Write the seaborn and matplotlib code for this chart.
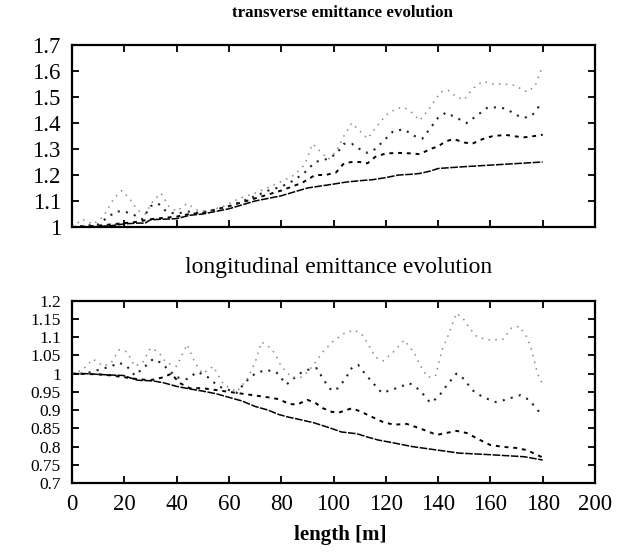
import numpy as np
import pandas as pd
import matplotlib
matplotlib.use("Agg")
import matplotlib.pyplot as plt
import seaborn as sns
from matplotlib.ticker import FormatStrFormatter

# ---------------- data ----------------
# transverse emittance evolution
tA_x = [0, 5, 10, 15, 20, 25, 28, 30, 35, 40, 45, 50, 60, 70, 80, 90, 100, 105, 110, 115, 120, 125, 130, 133, 137, 140, 150, 160, 170, 180]
tA_y = [1.0, 1.0, 1.002, 1.005, 1.012, 1.015, 1.015, 1.028, 1.03, 1.032, 1.045, 1.05, 1.07, 1.1, 1.12, 1.15, 1.165, 1.173, 1.178, 1.182, 1.19, 1.2, 1.203, 1.206, 1.215, 1.225, 1.232, 1.238, 1.244, 1.25]

tB_x = [0, 10, 20, 25, 30, 35, 40, 45, 50, 60, 70, 80, 88, 93, 97, 101, 104, 107, 110, 113, 116, 120, 125, 130, 133, 137, 140, 143, 146, 150, 153, 157, 161, 166, 170, 173, 177, 180]
tB_y = [1.0, 1.005, 1.015, 1.02, 1.03, 1.035, 1.04, 1.05, 1.055, 1.08, 1.11, 1.14, 1.17, 1.2, 1.2, 1.21, 1.245, 1.25, 1.25, 1.245, 1.27, 1.283, 1.285, 1.283, 1.28, 1.3, 1.31, 1.33, 1.338, 1.325, 1.32, 1.338, 1.35, 1.354, 1.348, 1.345, 1.35, 1.355]

tC_x = [0, 5, 10, 14, 17, 20, 24, 27, 30, 33, 36, 40, 44, 48, 52, 60, 68, 75, 80, 85, 89, 93, 97, 101, 104, 107, 110, 113, 116, 119, 123, 127, 131, 134, 137, 140, 143, 147, 151, 155, 159, 163, 166, 170, 173, 176, 178, 180]
tC_y = [1.0, 1.005, 1.01, 1.04, 1.06, 1.06, 1.045, 1.03, 1.08, 1.09, 1.06, 1.05, 1.06, 1.055, 1.06, 1.08, 1.11, 1.14, 1.155, 1.18, 1.21, 1.25, 1.26, 1.28, 1.32, 1.32, 1.3, 1.285, 1.3, 1.33, 1.37, 1.375, 1.35, 1.34, 1.38, 1.42, 1.44, 1.42, 1.4, 1.43, 1.46, 1.46, 1.455, 1.43, 1.42, 1.43, 1.457, 1.48]

tD_x = [0, 4, 8, 12, 16, 19, 22, 25, 28, 31, 34, 37, 40, 44, 48, 52, 58, 64, 70, 79, 85, 89, 92, 95, 98, 101, 104, 107, 110, 113, 116, 120, 124, 127, 130, 133, 137, 141, 144, 147, 150, 153, 157, 161, 165, 169, 174, 177, 180]
tD_y = [1.0, 1.03, 1.01, 1.04, 1.11, 1.14, 1.11, 1.065, 1.05, 1.1, 1.13, 1.08, 1.06, 1.09, 1.065, 1.06, 1.08, 1.11, 1.13, 1.17, 1.2, 1.24, 1.32, 1.29, 1.26, 1.29, 1.35, 1.4, 1.37, 1.34, 1.38, 1.43, 1.455, 1.46, 1.44, 1.41, 1.46, 1.52, 1.525, 1.5, 1.49, 1.53, 1.56, 1.55, 1.55, 1.545, 1.52, 1.54, 1.62]

# longitudinal emittance evolution
lA_x = [0, 5, 10, 15, 19.5, 25, 31, 35, 40, 45, 50, 55, 60, 65, 70, 75, 79, 82.6, 86.5, 92.6, 98.7, 103, 109, 113, 117, 123, 130, 140, 148, 159, 173, 180]
lA_y = [1.0, 1.0, 0.998, 0.996, 0.995, 0.982, 0.98, 0.975, 0.965, 0.958, 0.952, 0.945, 0.935, 0.925, 0.91, 0.9, 0.888, 0.881, 0.875, 0.865, 0.851, 0.84, 0.835, 0.826, 0.818, 0.81, 0.8, 0.79, 0.782, 0.778, 0.772, 0.763]

lB_x = [0, 10, 15, 20, 25, 30, 35, 38, 41, 45, 50, 55, 60, 65, 70, 75, 79, 83, 86, 90, 93, 96, 99.4, 102, 107, 110, 113, 119, 123, 128, 133, 139.5, 143, 147, 151, 156, 160, 165, 170, 174, 180]
lB_y = [1.0, 0.998, 0.995, 0.99, 0.985, 0.982, 0.99, 1.0, 0.975, 0.96, 0.96, 0.955, 0.95, 0.945, 0.94, 0.935, 0.93, 0.917, 0.915, 0.928, 0.92, 0.905, 0.895, 0.893, 0.905, 0.897, 0.887, 0.867, 0.86, 0.862, 0.85, 0.832, 0.837, 0.843, 0.837, 0.818, 0.804, 0.799, 0.796, 0.79, 0.77]

lC_x = [0, 5, 10, 15, 18, 21, 24, 28, 31, 34, 37, 40, 44, 48, 52, 56, 60, 63, 66, 70, 74, 78, 82, 87, 90, 93.5, 97, 99.3, 101.7, 105, 106.3, 109.4, 112, 115, 118.5, 122, 126, 129, 133, 137, 140, 143, 147, 150, 153, 157, 162, 165, 171.5, 175, 178, 180]
lC_y = [1.0, 1.0, 1.01, 1.02, 1.03, 1.02, 0.995, 1.02, 1.04, 1.03, 1.01, 0.99, 0.985, 1.005, 0.99, 0.965, 0.955, 0.947, 0.975, 1.0, 1.01, 1.005, 0.97, 1.0, 1.01, 1.015, 0.975, 0.953, 0.96, 0.99, 1.012, 1.024, 1.0, 0.975, 0.947, 0.955, 0.965, 0.974, 0.955, 0.92, 0.935, 0.965, 1.0, 0.985, 0.955, 0.936, 0.922, 0.927, 0.941, 0.927, 0.9, 0.886]

lD_x = [0, 4, 8, 12, 15, 18, 21, 24, 27, 30, 33, 36, 40, 44, 47, 50, 54, 58, 63, 67, 70, 72.5, 76, 78, 80, 84, 88, 92, 96, 100, 104, 108, 111, 113, 116, 119, 123, 127, 131, 133, 136, 139, 141.5, 143.5, 147, 150, 152, 155, 160, 165, 168, 171, 174, 176, 178, 180]
lD_y = [1.0, 1.01, 1.04, 1.02, 1.03, 1.065, 1.06, 1.02, 1.03, 1.07, 1.06, 1.03, 1.02, 1.08, 1.03, 1.0, 1.02, 0.97, 0.95, 0.985, 1.03, 1.087, 1.07, 1.05, 1.02, 0.99, 0.99, 1.02, 1.06, 1.09, 1.11, 1.12, 1.106, 1.084, 1.045, 1.035, 1.06, 1.092, 1.056, 1.024, 0.99, 0.993, 1.065, 1.098, 1.166, 1.147, 1.125, 1.1, 1.092, 1.095, 1.125, 1.13, 1.1, 1.06, 1.0, 0.97]

x_ticks = [0, 20, 40, 60, 80, 100, 120, 140, 160, 180, 200]
top_yticks = [1.0, 1.1, 1.2, 1.3, 1.4, 1.5, 1.6, 1.7]
bot_yticks = [0.7, 0.75, 0.8, 0.85, 0.9, 0.95, 1.0, 1.05, 1.1, 1.15, 1.2]

# ---------------- style ----------------
sns.set_theme(style="ticks")
plt.rcParams["font.family"] = ["Liberation Serif", "DejaVu Serif"]
plt.rcParams["axes.linewidth"] = 1.6

fig = plt.figure(figsize=(6.25, 5.56), dpi=100)
ax1 = fig.add_axes([72 / 625, 1 - 227 / 556, 523 / 625, 182 / 556])
ax2 = fig.add_axes([72 / 625, 1 - 483 / 556, 523 / 625, 182.3 / 556])

styles = [
    dict(color="black", linestyle=(0, (5, 1)), linewidth=1.1),
    dict(color="black", linestyle=(0, (2, 2.5)), linewidth=1.4),
    dict(color="#222222", linestyle=(0, (1, 3)), linewidth=1.5),
    dict(color="#888888", linestyle=(0, (1, 3.5)), linewidth=1.1),
]

top_series = [(tA_x, tA_y), (tB_x, tB_y), (tC_x, tC_y), (tD_x, tD_y)]
bot_series = [(lA_x, lA_y), (lB_x, lB_y), (lC_x, lC_y), (lD_x, lD_y)]

for ax, series in ((ax1, top_series), (ax2, bot_series)):
    for (xs, ys), st in zip(series, styles):
        df = pd.DataFrame({"x": xs, "y": ys})
        sns.lineplot(data=df, x="x", y="y", ax=ax, estimator=None, **st)

for ax in (ax1, ax2):
    ax.set_xlim(0, 200)
    ax.set_xticks(x_ticks)
    ax.set_xlabel("")
    ax.set_ylabel("")
    ax.tick_params(direction="in", length=5, width=1.3, top=True, right=True,
                   labelsize=16.5, colors="black")
    ax.tick_params(axis="y", pad=8)
    ax.tick_params(axis="x", pad=8)
    for s in ax.spines.values():
        s.set_color("black")

ax1.set_ylim(1.0, 1.7)
ax1.set_yticks(top_yticks)
ax1.yaxis.set_major_formatter(FormatStrFormatter("%g"))
ax1.set_xticklabels([])

ax2.set_ylim(0.7, 1.2)
ax2.set_yticks(bot_yticks)
ax2.yaxis.set_major_formatter(FormatStrFormatter("%g"))
ax2.tick_params(axis="y", labelsize=12.5, pad=8)
ax2.set_xticklabels([str(v) for v in x_ticks])

fig.text(342 / 625, 1 - 13 / 556, "transverse emittance evolution", ha="center", va="center",
         fontsize=12.2, color="black", fontweight="bold")
fig.text(339 / 625, 1 - 268 / 556, "longitudinal emittance evolution", ha="center", va="center",
         fontsize=17, color="black")
fig.text(340 / 625, 1 - 535 / 556, "length [m]", ha="center", va="center",
         fontsize=15, color="black", fontweight="bold")

fig.savefig("out.png", dpi=100, facecolor="white")
